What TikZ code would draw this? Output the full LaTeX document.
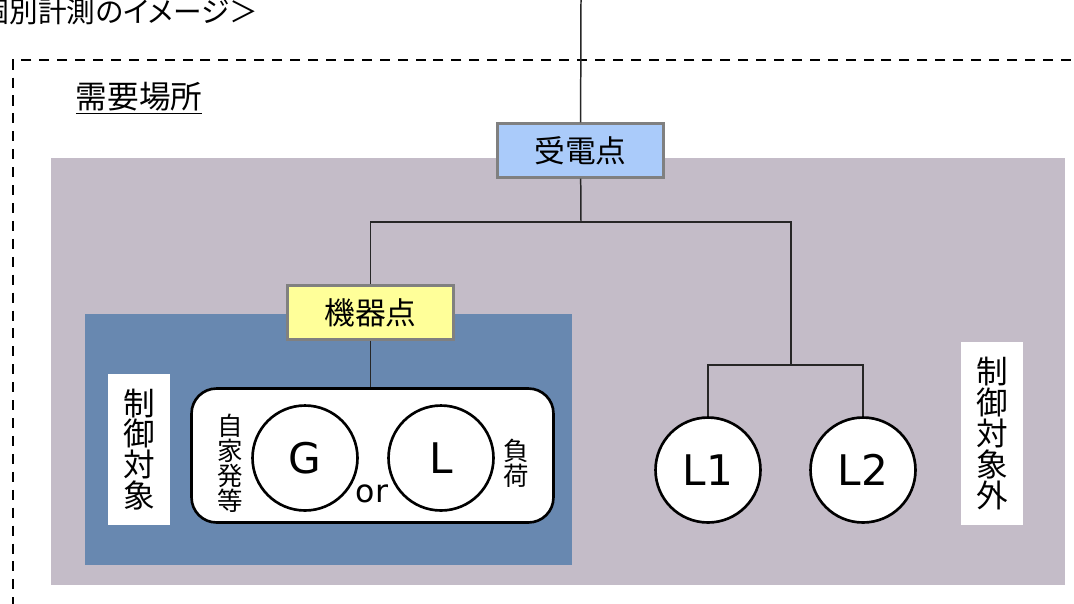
\documentclass[tikz,border=0pt]{standalone}
\usepackage{fontspec}
\setmainfont{Noto Sans CJK JP}
\newfontfamily\propfont[RawFeature=+palt]{Noto Sans CJK JP}
\newfontfamily\latinfont{DejaVu Sans}
\usetikzlibrary{positioning}
\definecolor{sitegray}{RGB}{196,188,200}
\definecolor{ctlblue}{RGB}{104,136,176}
\definecolor{rcvblue}{RGB}{170,203,250}
\definecolor{devyellow}{RGB}{255,255,153}

\begin{document}
\begin{tikzpicture}[x=0.02cm,y=-0.02cm,
  wire/.style={draw=black!85,line width=0.85pt},
  point/.style={draw=black!50,line width=1.4pt,minimum width=3.32cm,minimum height=1.08cm,inner sep=0pt,font=\fontsize{17.5}{20}\selectfont},
  tag/.style={fill=white,inner sep=0pt,align=center,minimum width=1.24cm,font=\fontsize{18}{17.6}\selectfont},
  side/.style={inner sep=0pt,align=center,font=\fontsize{14.5}{14.2}\selectfont},
  unit/.style={circle,draw,fill=white,line width=1.5pt,minimum size=2.1cm,inner sep=0pt,font=\latinfont\fontsize{24}{28}\selectfont}]
  \useasboundingbox (0,0) rectangle (1074,603);
  \draw[line width=1.2pt,dash pattern=on 5.7pt off 4.5pt] (1100,640) |- (13,60) -- (13,640);
  \fill[sitegray] (51,158) rectangle (1065,585);
  \fill[ctlblue] (85,314) rectangle (572,565);
  \node[anchor=east,inner sep=0pt,font=\propfont\fontsize{16.3}{20}\selectfont] (title) at (258,12) {＜個別計測のイメージ＞};
  \node[inner sep=0pt,font=\fontsize{18}{20}\selectfont] (site) at (139,98) {\underline{需要場所}};
  \node[point,fill=rcvblue] (jden) at (580.5,150.5) {受電点};
  \node[point,fill=devyellow] (kiki) at (370.5,312.5) {機器点};
  \node[tag,minimum height=3.02cm] (ctl) at (139,449.5) {制\\御\\対\\象};
  \node[tag,minimum height=3.66cm] (nctl) at (992,433.5) {制\\御\\対\\象\\外};
  \node[draw,fill=white,rounded corners=0.5cm,line width=1.5pt,minimum width=7.24cm,minimum height=2.68cm] (grp) at (372.5,455.5) {};
  \node[unit] (gen) at (305,458) {G};
  \node[unit] (load) at (441,458) {L};
  \node[inner sep=0pt,font=\latinfont\fontsize{18}{20}\selectfont] (or) at (372,494) {or};
  \node[side] (self) at (230,463) {自\\家\\発\\等};
  \node[side] (burden) at (516,463) {負\\荷};
  \node[unit] (L1) at (708,470) {L1};
  \node[unit] (L2) at (863,470) {L2};
  \coordinate (feed) at (581,0);
  \coordinate (bus) at (581,222);
  \coordinate (lbus) at (791,365);
  \draw[wire] (feed) -- (jden);
  \draw[wire] (jden) -- (bus);
  \draw[wire] (kiki) |- (bus) -| (lbus);
  \draw[wire] (kiki) -- (kiki |- grp.north);
  \draw[wire] (L1) |- (lbus) -| (L2);
\end{tikzpicture}
\end{document}
